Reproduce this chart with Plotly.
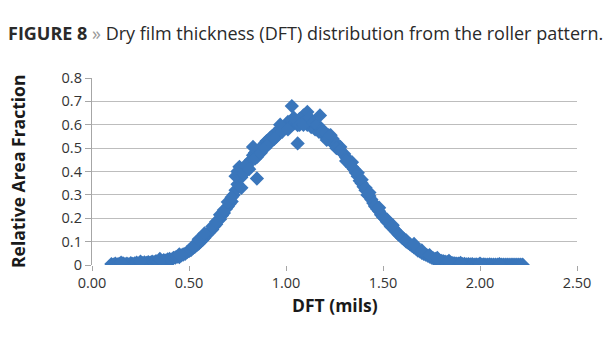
import plotly.graph_objects as go

# Main DFT series (mils) and relative area fraction
dft = [
    0.10,0.11,0.12,0.13,0.14,0.15,0.16,0.17,0.18,0.19,
    0.20,0.21,0.22,0.23,0.24,0.25,0.26,0.27,0.28,0.29,
    0.30,0.31,0.32,0.33,0.34,0.35,0.36,0.37,0.38,0.39,
    0.40,0.41,0.42,0.43,0.44,0.45,0.46,0.47,0.48,0.49,
    0.50,0.51,0.52,0.53,0.54,0.55,0.56,0.57,0.58,0.59,
    0.60,0.61,0.62,0.63,0.64,0.65,0.66,0.67,0.68,0.69,
    0.70,0.71,0.72,0.73,0.74,0.75,0.76,0.77,0.78,0.79,
    0.80,0.81,0.82,0.83,0.84,0.85,0.86,0.87,0.88,0.89,
    0.90,0.91,0.92,0.93,0.94,0.95,0.96,0.97,0.98,0.99,
    1.00,1.01,1.02,1.03,1.04,1.05,1.06,1.07,1.08,1.09,
    1.10,1.11,1.12,1.13,1.14,1.15,1.16,1.17,1.18,1.19,
    1.20,1.21,1.22,1.23,1.24,1.25,1.26,1.27,1.28,1.29,
    1.30,1.31,1.32,1.33,1.34,1.35,1.36,1.37,1.38,1.39,
    1.40,1.41,1.42,1.43,1.44,1.45,1.46,1.47,1.48,1.49,
    1.50,1.51,1.52,1.53,1.54,1.55,1.56,1.57,1.58,1.59,
    1.60,1.61,1.62,1.63,1.64,1.65,1.66,1.67,1.68,1.69,
    1.70,1.71,1.72,1.73,1.74,1.75,1.76,1.77,1.78,1.79,
    1.80,1.81,1.82,1.83,1.84,1.85,1.86,1.87,1.88,1.89,
    1.90,1.91,1.92,1.93,1.94,1.95,1.96,1.97,1.98,1.99,
    2.00,2.01,2.02,2.03,2.04,2.05,2.06,2.07,2.08,2.09,
    2.10,2.11,2.12,2.13,2.14,2.15,2.16,2.17,2.18,2.19,
    2.20,2.21,2.22,
]
fraction = [
    0.004,0.002,0.006,0.003,0.005,0.002,0.007,0.004,0.006,0.003,
    0.008,0.005,0.007,0.010,0.006,0.009,0.008,0.011,0.009,0.012,
    0.010,0.014,0.012,0.016,0.013,0.018,0.017,0.021,0.019,0.024,
    0.026,0.023,0.030,0.032,0.036,0.034,0.041,0.045,0.048,0.055,
    0.060,0.064,0.072,0.078,0.085,0.092,0.100,0.108,0.117,0.128,
    0.136,0.145,0.152,0.166,0.174,0.190,0.196,0.212,0.222,0.240,
    0.250,0.262,0.272,0.300,0.320,0.345,0.390,0.375,0.410,0.400,
    0.425,0.440,0.450,0.470,0.480,0.462,0.490,0.500,0.510,0.520,
    0.530,0.518,0.545,0.552,0.560,0.548,0.575,0.585,0.570,0.590,
    0.600,0.612,0.595,0.620,0.605,0.615,0.598,0.625,0.610,0.640,
    0.620,0.600,0.615,0.590,0.605,0.580,0.595,0.570,0.585,0.560,
    0.565,0.545,0.555,0.530,0.540,0.515,0.520,0.500,0.505,0.480,
    0.475,0.460,0.450,0.430,0.440,0.410,0.395,0.380,0.360,0.350,
    0.335,0.320,0.300,0.295,0.280,0.265,0.250,0.240,0.230,0.215,
    0.205,0.200,0.185,0.180,0.165,0.160,0.150,0.140,0.130,0.125,
    0.115,0.110,0.100,0.095,0.088,0.082,0.075,0.070,0.062,0.058,
    0.052,0.048,0.044,0.040,0.036,0.032,0.028,0.026,0.022,0.020,
    0.018,0.016,0.014,0.012,0.011,0.009,0.008,0.007,0.006,0.006,
    0.005,0.004,0.005,0.003,0.004,0.003,0.004,0.002,0.003,0.002,
    0.003,0.002,0.003,0.001,0.002,0.003,0.001,0.002,0.002,0.001,
    0.002,0.001,0.002,0.001,0.002,0.001,0.001,0.002,0.001,0.001,
    0.001,0.002,0.001,
]

# Additional scattered measurements (band thickness and outliers)
dft_extra = [0.15,0.25,0.35,0.45,0.52,0.55,0.58,0.62,0.64,0.66,0.68,0.70,0.72,0.74,0.75,0.76,0.77,
             0.78,0.79,0.81,0.83,0.84,0.85,0.87,0.89,0.92,0.94,0.97,1.01,1.03,1.04,1.06,1.07,
             1.09,1.11,1.12,1.14,1.16,1.175,1.18,1.19,1.21,1.23,1.26,1.28,1.31,1.34,1.37,1.39,
             1.41,1.43,1.46,1.48,1.52,1.55,1.58,1.62,1.66,1.70,1.74,1.78,1.84,1.90,2.00,2.10]
fraction_extra = [0.010,0.014,0.026,0.045,0.080,0.110,0.135,0.165,0.185,0.215,0.235,0.270,0.290,0.380,
                  0.400,0.420,0.330,0.390,0.425,0.410,0.505,0.455,0.370,0.480,0.500,0.525,0.540,
                  0.600,0.580,0.680,0.630,0.520,0.600,0.600,0.655,0.630,0.610,0.600,0.640,0.575,
                  0.575,0.535,0.555,0.500,0.490,0.445,0.420,0.395,0.365,0.330,0.310,0.255,0.245,
                  0.195,0.170,0.135,0.105,0.090,0.062,0.042,0.030,0.018,0.009,0.006,0.004]

x_ticks = [0.0, 0.5, 1.0, 1.5, 2.0, 2.5]
y_ticks = [0, 0.1, 0.2, 0.3, 0.4, 0.5, 0.6, 0.7, 0.8]

W, H = 615, 350
L, R, T, B = 92, 38, 78, 85
pw, ph = W - L - R, H - T - B

blue = "#3a76bb"
fig = go.Figure()
fig.add_trace(go.Scatter(x=dft, y=fraction, mode="markers",
                         marker=dict(symbol="diamond", size=11, color=blue, line=dict(width=0)),
                         showlegend=False, hoverinfo="x+y"))
fig.add_trace(go.Scatter(x=dft_extra, y=fraction_extra, mode="markers",
                         marker=dict(symbol="diamond", size=11, color=blue, line=dict(width=0)),
                         showlegend=False, hoverinfo="x+y"))

tick_font = dict(family="Open Sans, sans-serif", size=14.5, color="#333333")
fig.update_layout(
    width=W, height=H,
    margin=dict(l=L, r=R, t=T, b=B),
    paper_bgcolor="white", plot_bgcolor="white",
    font=dict(family="Open Sans, sans-serif"),
    title=dict(
        text="<b>FIGURE 8</b> <span style='color:#9a9a9a'>»</span> Dry film thickness (DFT) distribution from the roller pattern.",
        x=8 / W, xanchor="left", xref="container",
        y=1 - 34 / H, yanchor="middle", yref="container",
        font=dict(family="Open Sans, sans-serif", size=18, color="#2a2a2a"),
    ),
    xaxis=dict(range=[0, 2.5], tickvals=x_ticks, ticktext=[f"{v:.2f}" for v in x_ticks],
               showgrid=False, zeroline=False, showline=False,
               ticks="outside", ticklen=5, tickcolor="#a6a6a6", tickwidth=1,
               tickfont=tick_font),
    yaxis=dict(range=[0, 0.8], tickvals=y_ticks, ticktext=[f"{v:g}" for v in y_ticks],
               showgrid=True, gridcolor="#bdbdbd", gridwidth=1.3,
               zeroline=False, showline=True, linecolor="#a6a6a6", linewidth=1.3,
               ticks="outside", ticklen=6, tickcolor="#a6a6a6", tickwidth=1,
               tickfont=tick_font),
    annotations=[
        dict(text="<b>Relative Area Fraction</b>", textangle=-90,
             xref="paper", yref="paper", x=(18 - L) / pw, y=(H - B - 172) / ph,
             xanchor="center", yanchor="middle", showarrow=False,
             font=dict(family="Open Sans, sans-serif", size=17.5, color="#1a1a1a")),
        dict(text="<b>DFT (mils)</b>",
             xref="paper", yref="paper", x=0.5, y=(H - B - 305) / ph,
             xanchor="center", yanchor="middle", showarrow=False,
             font=dict(family="Open Sans, sans-serif", size=17.5, color="#1a1a1a")),
    ],
)

fig.write_html("out.html")
